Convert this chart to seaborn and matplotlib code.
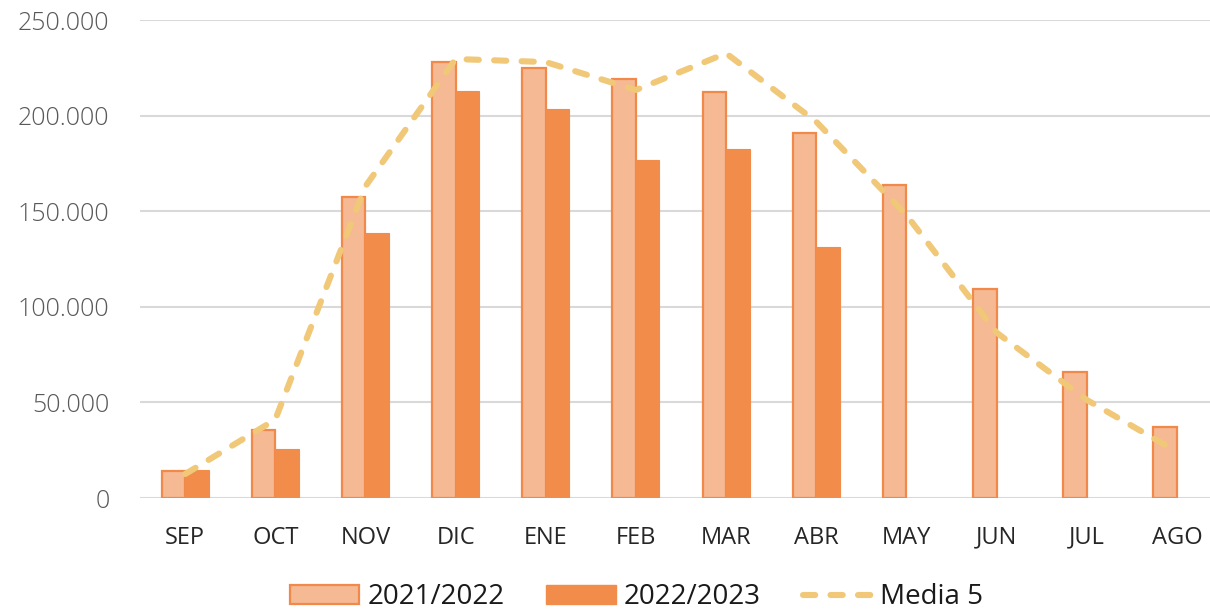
import numpy as np
import pandas as pd
import matplotlib
matplotlib.use("Agg")
import matplotlib.pyplot as plt
import seaborn as sns
from matplotlib.ticker import FuncFormatter

meses = ['SEP', 'OCT', 'NOV', 'DIC', 'ENE', 'FEB', 'MAR', 'ABR', 'MAY', 'JUN', 'JUL', 'AGO']
t2122 = [14100, 35400, 157300, 227900, 224700, 219000, 212500, 190900, 163700, 109200, 65900, 37000]
t2223 = [14600, 25800, 138400, 213000, 203500, 176800, 182400, 131100, np.nan, np.nan, np.nan, np.nan]
media5 = [12500, 41000, 163000, 229600, 228000, 213400, 232600, 196800, 148000, 86500, 51300, 24200]

c_light = '#F5B994'
c_edge = '#F0894A'
c_dark = '#F28C4B'
c_line = '#F0C878'

df = pd.DataFrame({
    'mes': meses * 2,
    'valor': t2122 + t2223,
    'temporada': ['2021/2022'] * 12 + ['2022/2023'] * 12,
})

sns.set_style('white')
plt.rcParams['font.family'] = ['Open Sans', 'DejaVu Sans']

fig = plt.figure(figsize=(12.1, 6.13), dpi=100)
ax = fig.add_axes([140 / 1210, 115 / 613, 1082 / 1210, 478 / 613])

sns.barplot(data=df, x='mes', y='valor', hue='temporada', order=meses,
            palette=[c_light, c_dark], saturation=1, width=0.52, ax=ax)
for p in ax.containers[0]:
    p.set_edgecolor(c_edge)
    p.set_linewidth(1.6)
for p in ax.containers[1]:
    p.set_edgecolor(c_dark)
    p.set_linewidth(0.8)

sns.lineplot(x=np.arange(len(meses)), y=media5, color=c_line, lw=4.4,
             label='Media 5', ax=ax, dashes=False)
ln = ax.lines[-1]
ln.set_dashes((2.0, 2.5))
ln.set_dash_capstyle('round')

ax.set_xlim(-0.5, 11.5)
ax.set_ylim(0, 250000)
ax.set_yticks(np.arange(0, 250001, 50000))
ax.yaxis.set_major_formatter(FuncFormatter(lambda v, p: f'{int(v):,}'.replace(',', '.')))
ax.grid(axis='y', color='#D9D9D9', lw=1.5)
ax.set_axisbelow(True)
for s in ax.spines.values():
    s.set_visible(False)
ax.set_xlabel('')
ax.set_ylabel('')
ax.tick_params(axis='y', length=0, pad=22, labelsize=18, labelcolor='#595959')
ax.tick_params(axis='x', length=0, pad=20, labelsize=17, labelcolor='#262626')
for t in ax.get_yticklabels():
    t.set_fontweight('light')

handles, labels = ax.get_legend_handles_labels()
ax.legend_.remove()
leg = fig.legend(handles, labels, loc='center', bbox_to_anchor=(0.526, 0.026), ncol=3,
                 frameon=False, fontsize=20, handlelength=2.5, handleheight=0.65,
                 handletextpad=0.3, columnspacing=1.5, labelcolor='#1a1a1a')
hs = leg.legend_handles
hs[0].set_edgecolor(c_edge)
hs[0].set_linewidth(1.6)
hs[1].set_edgecolor(c_dark)
hs[2].set_dashes((2.0, 2.5))
hs[2].set_dash_capstyle('round')

fig.savefig('out.png', dpi=100)
